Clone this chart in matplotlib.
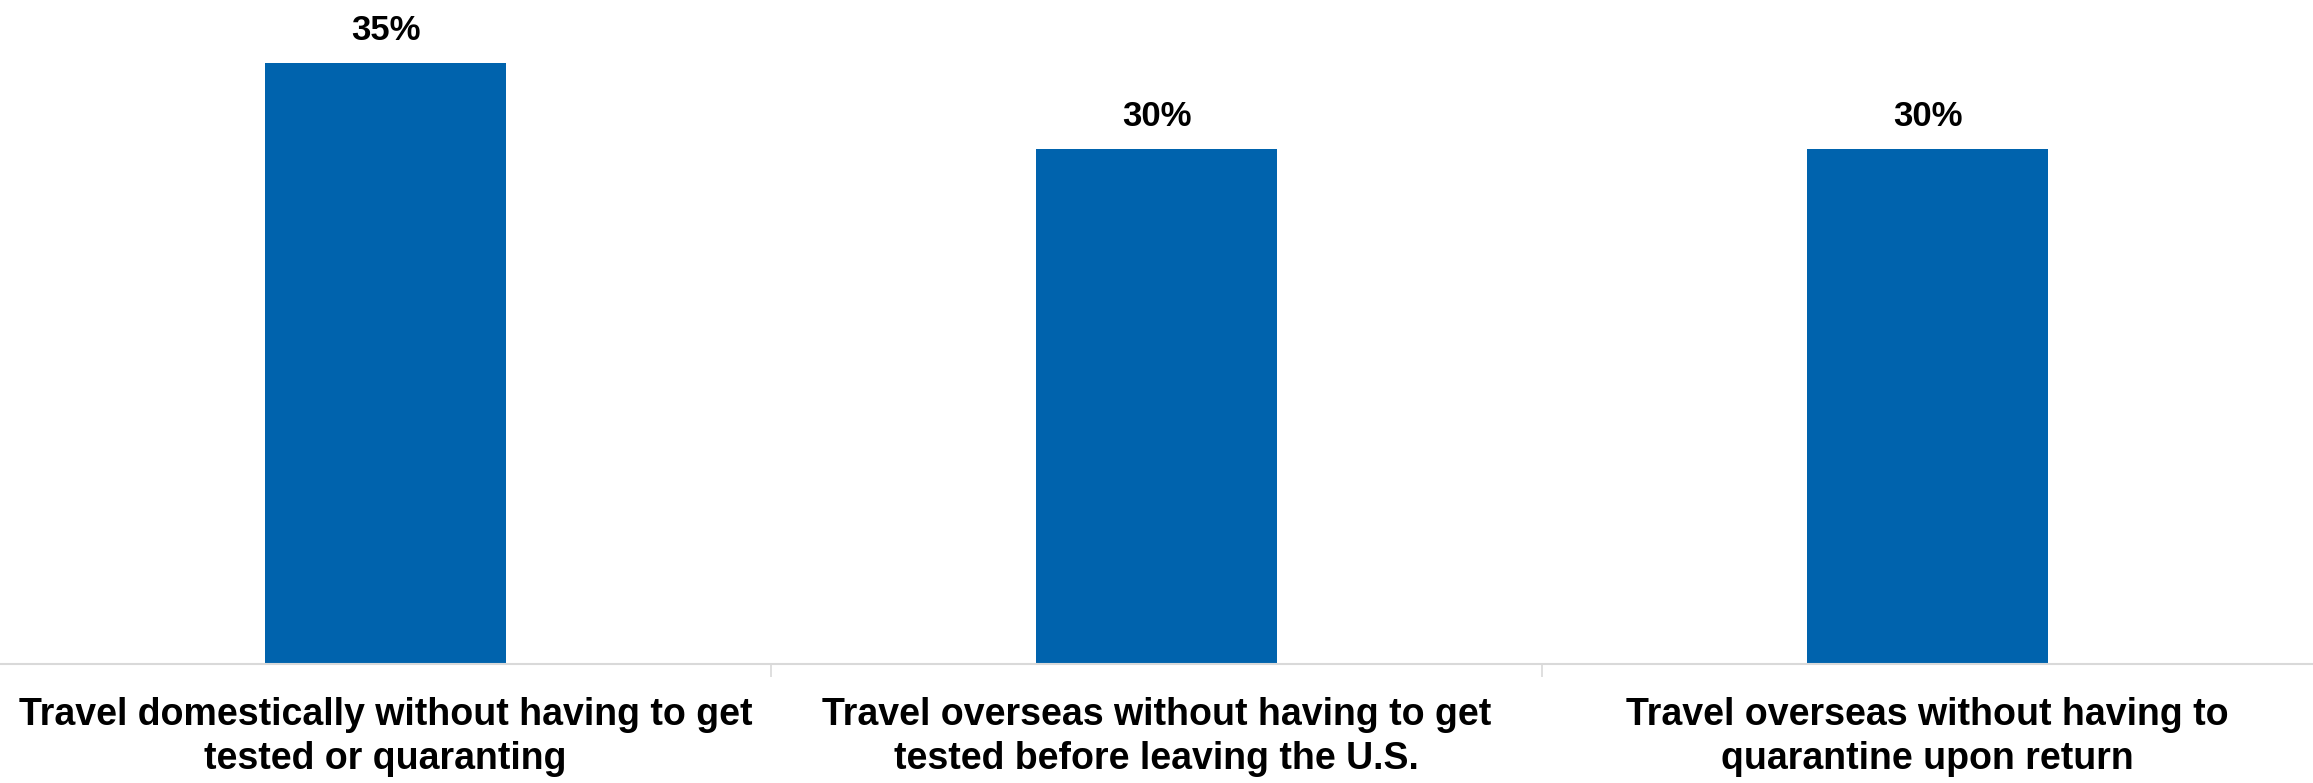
import matplotlib
matplotlib.use('Agg')
import matplotlib.pyplot as plt
import numpy as np

# chart data
categories = [
    'Travel domestically without having to get\ntested or quaranting',
    'Travel overseas without having to get\ntested before leaving the U.S.',
    'Travel overseas without having to\nquarantine upon return',
]
values = [35, 30, 30]
value_labels = ['35%', '30%', '30%']

plt.rcParams['font.family'] = ['Liberation Sans', 'DejaVu Sans']

fig = plt.figure(figsize=(23.13, 7.83), dpi=100)
ax = fig.add_axes([0, 0.152, 1, 0.848])

x = np.arange(len(categories))
bars = ax.bar(x, values, width=0.313, color='#0063ad')

# value labels above the bars
for bar, lab in zip(bars, value_labels):
    ax.annotate(lab, (bar.get_x() + bar.get_width() / 2, bar.get_height()),
                xytext=(0, 12), textcoords='offset points',
                ha='center', va='bottom', fontsize=25, fontweight='bold')

ax.set_xlim(-0.5, len(categories) - 0.5)
ax.set_ylim(0, 38.7)

ax.set_xticks(x)
ax.set_xticklabels(categories, fontsize=27, fontweight='bold', linespacing=1.28)
ax.set_xticks(x[:-1] + 0.5, minor=True)
ax.tick_params(axis='x', which='major', length=0, pad=24)
ax.tick_params(axis='x', which='minor', length=9, color='#d9d9d9', width=1.2)
ax.set_yticks([])

for side in ['top', 'right', 'left']:
    ax.spines[side].set_visible(False)
ax.spines['bottom'].set_color('#d9d9d9')
ax.spines['bottom'].set_linewidth(1.5)

fig.savefig('out.png', dpi=100)
